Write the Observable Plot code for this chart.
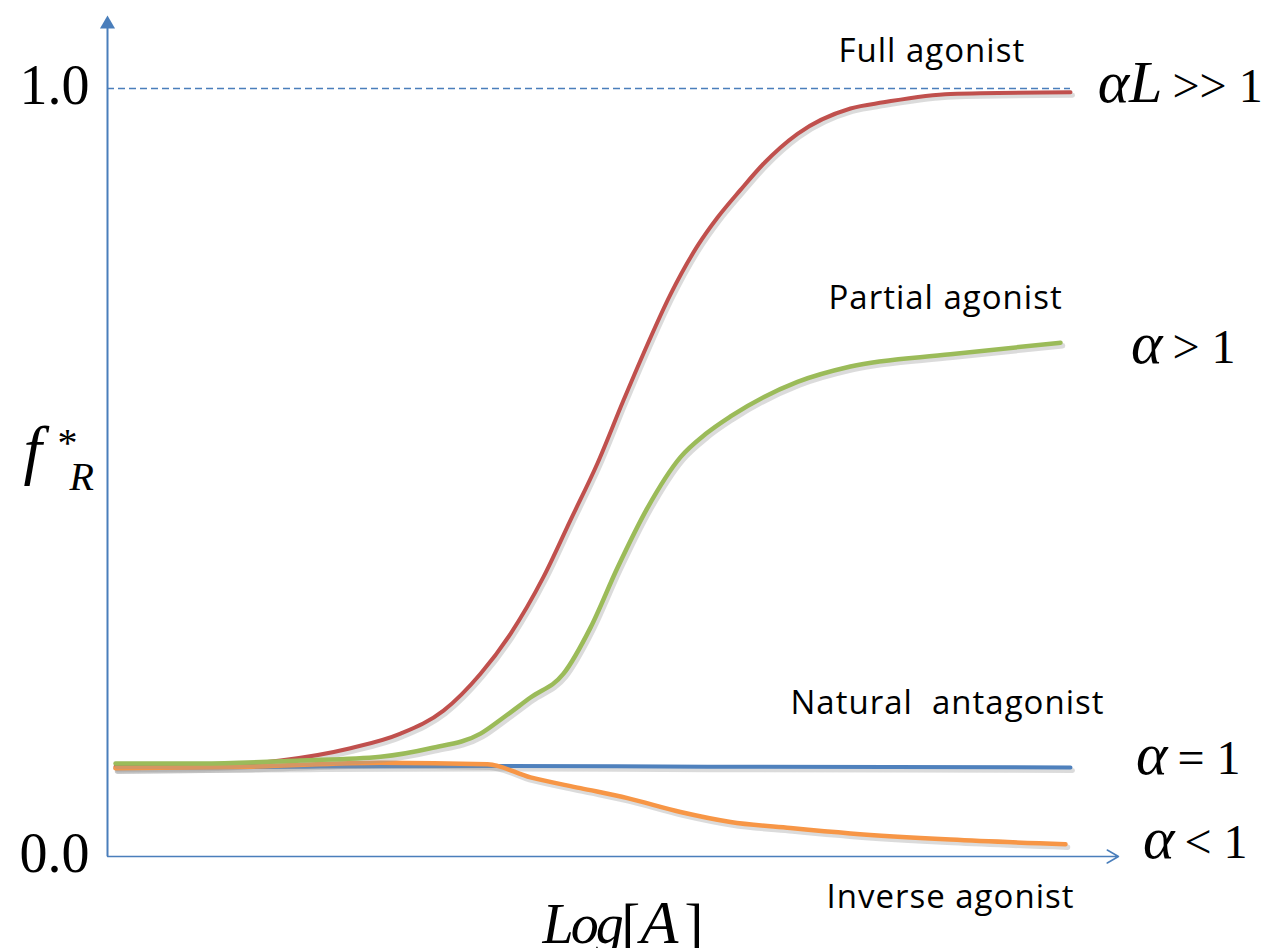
<!DOCTYPE html>
<html><head><meta charset="utf-8">
<script src="https://cdn.jsdelivr.net/npm/d3@7"></script>
<script src="https://cdn.jsdelivr.net/npm/@observablehq/plot@0.6"></script>
<style>
html,body{margin:0;padding:0;background:#fff;overflow:hidden}
g[aria-description="sans"] text{letter-spacing:1px}
g[aria-description="xlabel"] text{letter-spacing:-3px}
</style>
</head><body><div id="chart"></div>
<script>
// ---- data ----
const redX   = [0.08,0.93,1.73,2.43,2.93,3.36,3.73,4.03,4.36,4.63,4.90,5.16,5.36,5.63,5.90,6.10,6.33,6.56,6.90,7.43,7.76,8.43,9.63];
const redY   = [0.117,0.118,0.125,0.141,0.160,0.190,0.238,0.290,0.364,0.438,0.512,0.594,0.655,0.732,0.795,0.832,0.868,0.902,0.941,0.974,0.982,0.993,0.995];
const greenX = [0.08,0.93,1.93,2.73,3.23,3.73,3.96,4.23,4.56,4.83,5.10,5.40,5.73,5.98,6.23,6.90,7.43,8.43,9.53];
const greenY = [0.121,0.121,0.125,0.130,0.141,0.160,0.181,0.207,0.238,0.298,0.376,0.454,0.520,0.550,0.573,0.618,0.638,0.654,0.669];
const blueX  = [0.08,2.00,3.83,6.00,9.63];
const blueY  = [0.115,0.117,0.118,0.117,0.116];
const orangeX= [0.08,1.43,2.73,3.80,4.23,4.73,5.20,5.73,6.23,6.83,7.43,8.43,9.58];
const orangeY= [0.115,0.117,0.122,0.120,0.103,0.089,0.076,0.058,0.045,0.037,0.030,0.022,0.016];

const yTicks = [0, 1];
const yTickLabels = ["0.0", "1.0"];
const sansLabels = ["Full agonist", "Partial agonist", "Natural  antagonist", "Inverse agonist"];
const mathItalic = ["αL", "α", "α", "α"];
const mathRest   = [">> 1", "> 1", "= 1", "< 1"];
const xLabelLog = ["Log"];
const xLabelA = ["A"];
const xLabelUpright = ["[", "]"];

// ---- layout of annotations (data units) ----
const sansPos = [[7.31,1.034],[7.21,0.7135],[6.83,0.185],[7.19,-0.0677]];
const mathPos = [[10.55,0.982],[10.55,0.643],[10.60,0.108],[10.67,-0.0026]];
const xUprightPos = [[5.14,-0.113],[5.77,-0.113]];

const toRows = (xs, ys) => xs.map((x, i) => ({x, y: ys[i]}));
const red = toRows(redX, redY), green = toRows(greenX, greenY),
      blue = toRows(blueX, blueY), orange = toRows(orangeX, orangeY);

const axisColor = "#4A7EBB";
const serif = "Liberation Serif, Times New Roman, serif";
const sans = "Open Sans, sans-serif";

function curve(data, color, w) {
  return [
    Plot.line(data, {x: "x", y: "y", stroke: "#999", strokeOpacity: 0.35, strokeWidth: w + 1, dx: 2, dy: 3, curve: "monotone-x"}),
    Plot.line(data, {x: "x", y: "y", stroke: color, strokeWidth: w, curve: "monotone-x"})
  ];
}

const plot = Plot.plot({
  width: 1268, height: 948,
  marginLeft: 107, marginRight: 161, marginTop: 88, marginBottom: 92,
  x: {domain: [0, 10], axis: null},
  y: {domain: [0, 1], axis: null},
  style: {background: "#fff", overflow: "visible"},
  marks: [
    Plot.ruleY([1], {x1: 0, x2: 9.63, stroke: axisColor, strokeWidth: 1.5, strokeDasharray: "7,4"}),
    Plot.ruleX([0], {y1: 0, y2: 1.08, stroke: axisColor, strokeWidth: 2}),
    Plot.dot([0], {x: 0, y: 1.0837, symbol: "triangle", r: 5.6, fill: axisColor, stroke: "none"}),
    Plot.arrow([0], {x1: 0, y1: 0, x2: 10.11, y2: 0, stroke: axisColor, strokeWidth: 1.5, headLength: 13, headAngle: 60}),
    ...curve(blue, "#4F81BD", 4),
    ...curve(red, "#C0504D", 4),
    ...curve(orange, "#F79646", 4.5),
    ...curve(green, "#9BBB59", 4.5),
    Plot.text(yTicks, {x: 0, y: d => d, text: (d, i) => yTickLabels[i], textAnchor: "end", dx: -18, dy: -2, fontSize: 56, fontFamily: serif, fill: "black"}),
    Plot.text(["f"], {x: -0.84, y: 0.501, text: d => d, fontStyle: "italic", fontSize: 66, fontFamily: serif, textAnchor: "start", lineAnchor: "bottom", fill: "black"}),
    Plot.text(["*"], {x: -0.50, y: 0.522, text: d => d, fontSize: 40, fontFamily: serif, textAnchor: "start", lineAnchor: "bottom", fill: "black"}),
    Plot.text(["R"], {x: -0.38, y: 0.477, text: d => d, fontStyle: "italic", fontSize: 40, fontFamily: serif, textAnchor: "start", lineAnchor: "bottom", fill: "black"}),
    Plot.text(sansLabels, {x: (d, i) => sansPos[i][0], y: (d, i) => sansPos[i][1], text: d => d, fontSize: 33, fontFamily: sans, textAnchor: "start", lineAnchor: "bottom", fill: "black", ariaDescription: "sans"}),
    Plot.text(mathItalic, {x: (d, i) => mathPos[i][0], y: (d, i) => mathPos[i][1], text: d => d, fontStyle: "italic", fontSize: 60, fontFamily: serif, textAnchor: "end", lineAnchor: "bottom", fill: "black"}),
    Plot.text(mathRest, {x: (d, i) => mathPos[i][0], y: (d, i) => mathPos[i][1], text: d => d, dx: 10, fontSize: 48, fontFamily: serif, textAnchor: "start", lineAnchor: "bottom", fill: "black"}),
    Plot.text(xLabelLog, {x: 4.35, y: -0.113, text: d => d, fontStyle: "italic", fontSize: 56, fontFamily: serif, textAnchor: "start", lineAnchor: "bottom", fill: "black", ariaDescription: "xlabel"}),
    Plot.text(xLabelA, {x: 5.33, y: -0.113, text: d => d, fontStyle: "italic", fontSize: 62, fontFamily: serif, textAnchor: "start", lineAnchor: "bottom", fill: "black"}),
    Plot.text(xLabelUpright, {x: (d, i) => xUprightPos[i][0], y: (d, i) => xUprightPos[i][1], text: d => d, fontSize: 56, fontFamily: serif, textAnchor: "start", lineAnchor: "bottom", fill: "black"})
  ]
});
document.getElementById("chart").appendChild(plot);
</script>
</body></html>
